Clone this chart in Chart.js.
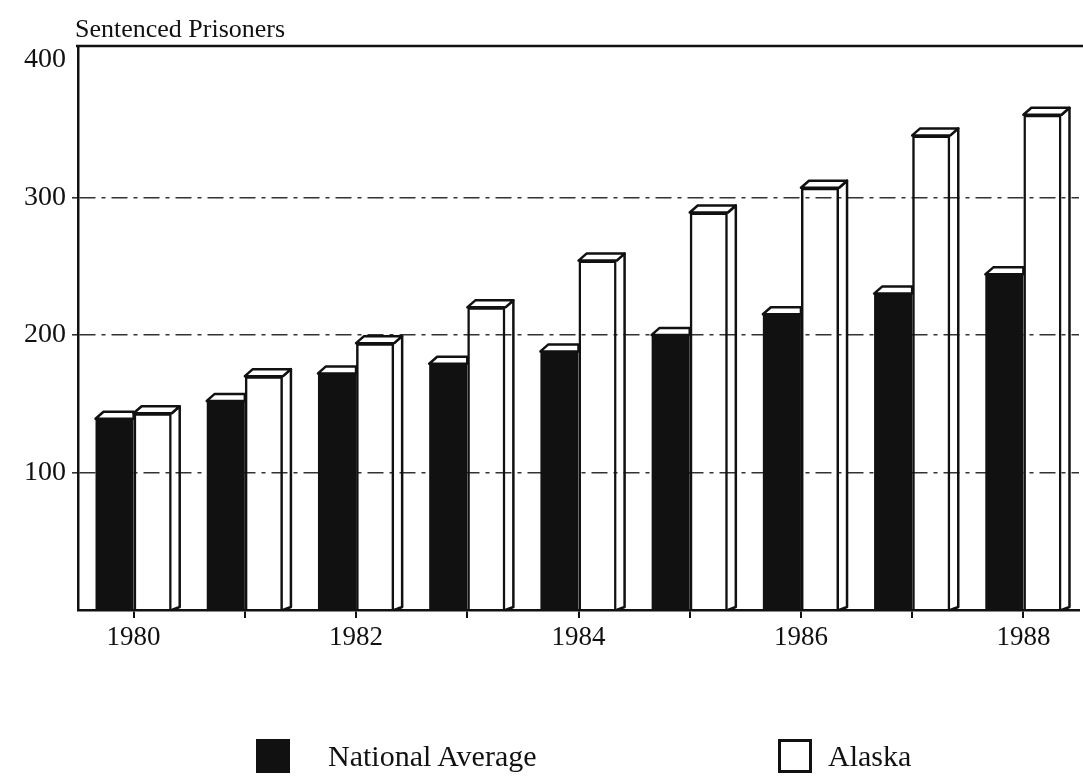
<!DOCTYPE html>
<html>
<head>
<meta charset="utf-8">
<title>Sentenced Prisoners</title>
<script src="https://cdn.jsdelivr.net/npm/chart.js@4.4.1/dist/chart.umd.min.js"></script>
<style>
    html, body { margin: 0; padding: 0; background: #fff; }
    .wrap { position: relative; width: 1083px; height: 782px; }
    #legend { position: absolute; left: 0; top: 738px; width: 1083px; height: 40px;
        font-family: "Liberation Serif", "DejaVu Serif", serif; font-size: 30px; color: #111; }
    .legend-item { position: absolute; top: 0; display: flex; align-items: center; height: 36px; }
    .legend-box { width: 34px; height: 34px; box-sizing: border-box; border: 3px solid #111; }
</style>
</head>
<body>
<div class="wrap">
    <canvas id="chart" width="1083" height="782"></canvas>
    <div id="legend"></div>
</div>
<script>
const years = ["1980", "1981", "1982", "1983", "1984", "1985", "1986", "1987", "1988"];
const nationalAverage = [139, 152, 172, 179, 188, 200, 215, 230, 244];
const alaska = [143, 170, 194, 220, 254, 289, 307, 345, 360];
const yTicks = [100, 200, 300, 400];
const xTickLabels = ["1980", "", "1982", "", "1984", "", "1986", "", "1988"];

const FONT = "'Liberation Serif', 'DejaVu Serif', serif";
const INK = "#111";
const DEPTH_X = 8;
const DEPTH_Y = 7;

// 3d caps and side faces on top of the flat bars
const bars3d = {
    id: "bars3d",
    afterDatasetsDraw(chart) {
        const ctx = chart.ctx;
        const blackBars = chart.getDatasetMeta(0).data;
        const whiteBars = chart.getDatasetMeta(1).data;

        ctx.save();
        ctx.lineWidth = 2.5;
        ctx.strokeStyle = INK;
        ctx.lineJoin = "round";

        blackBars.forEach((bar) => {
            const { x, y, width } = bar.getProps(["x", "y", "width"], true);
            const left = x - width / 2;
            const right = x + width / 2;
            ctx.beginPath();
            ctx.moveTo(left, y);
            ctx.lineTo(left + DEPTH_X, y - DEPTH_Y);
            ctx.lineTo(right, y - DEPTH_Y);
            ctx.lineTo(right, y);
            ctx.closePath();
            ctx.fillStyle = "#fff";
            ctx.fill();
            ctx.stroke();
        });

        whiteBars.forEach((bar) => {
            const { x, y, width, base } = bar.getProps(["x", "y", "width", "base"], true);
            const left = x - width / 2;
            const right = x + width / 2;

            ctx.beginPath();
            ctx.moveTo(right, y);
            ctx.lineTo(right + DEPTH_X, y - DEPTH_Y);
            ctx.lineTo(right + DEPTH_X, base - 3);
            ctx.lineTo(right, base);
            ctx.stroke();

            ctx.beginPath();
            ctx.moveTo(left, y);
            ctx.lineTo(left + DEPTH_X, y - DEPTH_Y);
            ctx.lineTo(right + DEPTH_X, y - DEPTH_Y);
            ctx.lineTo(right, y);
            ctx.closePath();
            ctx.fillStyle = "#fff";
            ctx.fill();
            ctx.stroke();
        });
        ctx.restore();
    },
    afterDraw(chart) {
        const { ctx, chartArea } = chart;
        ctx.save();
        ctx.strokeStyle = INK;
        ctx.lineWidth = 2.5;
        ctx.beginPath();
        ctx.moveTo(chartArea.left - 2, chartArea.top);
        ctx.lineTo(chart.width, chartArea.top);
        ctx.stroke();

        ctx.fillStyle = INK;
        ctx.font = `26px ${FONT}`;
        ctx.textBaseline = "alphabetic";
        ctx.fillText("Sentenced Prisoners", chartArea.left - 3, chartArea.top - 9);
        ctx.restore();
    },
};

const chart = new Chart(document.getElementById("chart"), {
    type: "bar",
    data: {
        labels: years,
        datasets: [
            {
                label: "National Average",
                data: nationalAverage,
                backgroundColor: INK,
                borderColor: INK,
                borderWidth: 0,
            },
            {
                label: "Alaska",
                data: alaska,
                backgroundColor: "rgba(255, 255, 255, 0)",
                borderColor: INK,
                borderWidth: 2.5,
            },
        ],
    },
    options: {
        responsive: false,
        animation: false,
        barPercentage: 1,
        categoryPercentage: 0.685,
        layout: {
            padding: { top: 46, right: 4, bottom: 122, left: 0 },
        },
        plugins: {
            legend: { display: false },
            tooltip: { enabled: false },
        },
        scales: {
            x: {
                grid: {
                    offset: false,
                    drawOnChartArea: false,
                    color: INK,
                    lineWidth: 2,
                    tickLength: 8,
                },
                border: { color: INK, width: 2.5 },
                ticks: {
                    autoSkip: false,
                    maxRotation: 0,
                    color: INK,
                    padding: 4,
                    font: { family: FONT, size: 27 },
                    callback: (value, index) => xTickLabels[index],
                },
                afterFit: (scale) => {
                    scale.height = 50;
                },
            },
            y: {
                min: 0,
                max: 410,
                afterBuildTicks: (scale) => {
                    scale.ticks = yTicks.map((value) => ({ value }));
                },
                grid: {
                    color: "#333",
                    lineWidth: (context) => (context.tick && context.tick.value === 400 ? 0 : 1.6),
                    tickLength: 6,
                    tickBorderDash: [],
                },
                border: { color: INK, width: 2.5, dash: [16, 6, 4, 6] },
                ticks: {
                    color: INK,
                    padding: 6,
                    font: { family: FONT, size: 28 },
                },
                afterFit: (scale) => {
                    scale.width = 78;
                },
            },
        },
    },
    plugins: [bars3d],
});

// legend below the chart
const legendElement = document.getElementById("legend");
const legendLeft = [256, 778];
const legendGap = [38, 16];
chart.data.datasets.forEach((dataset, index) => {
    const item = document.createElement("div");
    item.className = "legend-item";
    item.style.left = `${legendLeft[index]}px`;
    const box = document.createElement("span");
    box.className = "legend-box";
    box.style.background = index === 0 ? INK : "#fff";
    box.style.marginRight = `${legendGap[index]}px`;
    const text = document.createElement("span");
    text.textContent = dataset.label;
    item.appendChild(box);
    item.appendChild(text);
    legendElement.appendChild(item);
});
</script>
</body>
</html>
